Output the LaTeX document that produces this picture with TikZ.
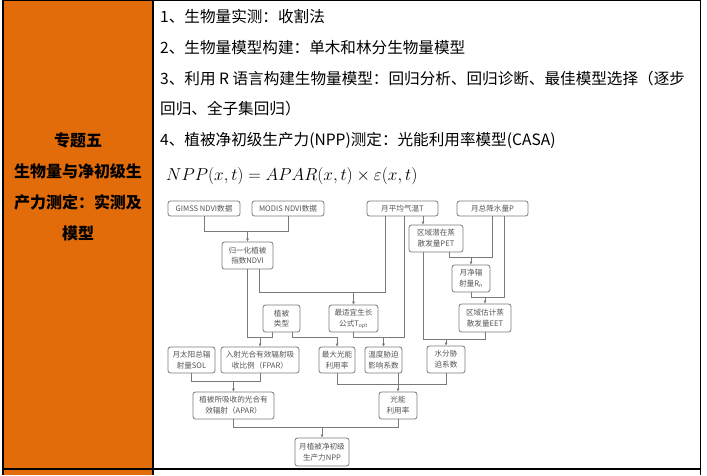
\documentclass[tikz,border=0pt]{standalone}
\usepackage{fontspec}
\newfontfamily\cjk{Noto Sans CJK SC}
\usetikzlibrary{arrows.meta}
\definecolor{taborange}{HTML}{E36C0A}
\definecolor{boxgray}{HTML}{7A7A7A}
\definecolor{txtgray}{HTML}{555555}

\begin{document}
\begin{tikzpicture}[x=1pt,y=-1pt,>=Latex,
 box/.style={draw=boxgray,rounded corners=2.5pt,line width=0.8pt,align=center,inner sep=0pt,text=txtgray,font=\cjk\fontsize{7.6}{10.8}\selectfont},
 ln/.style={draw=boxgray,line width=0.8pt},
 ar/.style={ln,-{Latex[length=3pt,width=3.2pt]}},
 item/.style={anchor=west,inner sep=0pt,font=\cjk\fontsize{15.6}{18}\selectfont},
 rule/.style={line width=1.2pt,black}]
\useasboundingbox (0,0) rectangle (707,475);
\fill[white] (0,0) rectangle (707,475);
\fill[taborange] (3,0) rectangle (153,475);
\draw[rule] (3,0.6) -- (700.5,0.6);
\draw[rule] (3,469) -- (700.5,469);
\draw[rule] (3,0) -- (3,475);
\draw[rule] (153,0) -- (153,475);
\draw[rule] (700.5,0) -- (700.5,475);

\node[font=\cjk\bfseries\fontsize{16}{31}\selectfont,align=center] (topic) at (78,186.5) {专题五\\生物量与净初级生\\产力测定：实测及\\模型};

\node[item] (l1) at (160,17) {1、生物量实测：收割法};
\node[item] (l2) at (160,48) {2、生物量模型构建：单木和林分生物量模型};
\node[item] (l3) at (160,79) {3、利用 R 语言构建生物量模型：回归分析、回归诊断、最佳模型选择（逐步};
\node[item] (l3b) at (160,109) {回归、全子集回归）};
\node[item] (l4) at (160,140) {4、植被净初级生产力(NPP)测定：光能利用率模型(CASA)};
\node[anchor=west,inner sep=0pt,font=\fontsize{16.4}{18}\selectfont] (eq) at (166,176) {$NPP(x,t)=APAR(x,t)\times\varepsilon(x,t)$};

\node[box,minimum width=72pt,minimum height=15pt] (gimss) at (204,208.5) {GIMSS NDVI数据};
\node[box,minimum width=72pt,minimum height=15pt] (modis) at (288,208.5) {MODIS NDVI数据};
\node[box,minimum width=71pt,minimum height=15pt] (temp) at (402.5,208.5) {月平均气温T};
\node[box,minimum width=71pt,minimum height=15pt] (prec) at (492.5,208.5) {月总降水量P};
\node[box,minimum width=51pt,minimum height=27pt] (ndvi) at (247.5,255.5) {归一化植被\\指数NDVI};
\node[box,minimum width=54pt,minimum height=27pt] (pet) at (436,238.5) {区域潜在蒸\\散发量PET};
\node[box,minimum width=38pt,minimum height=27pt] (rn) at (471,278.5) {月净辐\\射量R\textsubscript{n}};
\node[box,minimum width=52pt,minimum height=28pt] (eet) at (485,318) {区域估计蒸\\散发量EET};
\node[box,minimum width=37pt,minimum height=27pt] (veg) at (281.5,318.5) {植被\\类型};
\node[box,minimum width=49pt,minimum height=27pt] (topt) at (353.5,318.5) {最适宜生长\\公式T\textsubscript{opt}};
\node[box,minimum width=47pt,minimum height=26pt] (sol) at (191.5,360) {月太阳总辐\\射量SOL};
\node[box,minimum width=78pt,minimum height=26pt] (fpar) at (260,360) {入射光合有效辐射吸\\收比例（FPAR）};
\node[box,minimum width=36pt,minimum height=26pt] (luemax) at (337,360) {最大光能\\利用率};
\node[box,minimum width=37pt,minimum height=26pt] (tstress) at (383.5,360) {温度胁迫\\影响系数};
\node[box,minimum width=38pt,minimum height=27pt] (water) at (446,359.5) {水分胁\\迫系数};
\node[box,minimum width=81pt,minimum height=27pt] (apar) at (233.5,405.5) {植被所吸收的光合有\\效辐射（APAR）};
\node[box,minimum width=38pt,minimum height=27pt] (lue) at (398,405.5) {光能\\利用率};
\node[box,minimum width=54pt,minimum height=28pt] (npp) at (322,452) {月植被净初级\\生产力NPP};

\draw[ln] (gimss.south) -- ++(0,15) -| (modis.south);
\draw[ar] (ndvi.north) ++(0,-11) -- (ndvi.north);
\draw[ln] ([xshift=12pt]ndvi.south) -- ++(0,23) -| ([xshift=-17.5pt]temp.south);
\draw[ar] (topt.north) ++(0,-13) -- (topt.north);
\draw[ln] (ndvi.south) -- ++(0,68) -| ([xshift=-9.5pt]veg.south);
\draw[ar] (fpar.north) ++(0,-10) -- (fpar.north);
\draw[ar] ([xshift=10.5pt]veg.south) -- ++(0,5) -| (luemax.north);
\draw[ln] (topt.south) -- ++(0,5) -| ([xshift=1.5pt]temp.south);
\draw[ar] (tstress.north) ++(0,-10) -- (tstress.north);
\draw[ar] ([xshift=20.5pt]temp.south) -- ([xshift=-13pt]pet.north);
\draw[ln] ([xshift=13pt]pet.south) -- ++(0,5) -| (prec.south);
\draw[ar] (rn.north) ++(0,-8) -- (rn.north);
\draw[ln] (rn.south) -- ++(0,5) -| ([xshift=11.5pt]prec.south);
\draw[ar] (eet.north) ++(0,-7) -- (eet.north);
\draw[ln] ([xshift=-13pt]pet.south) -- ++(0,87) -| (eet.south);
\draw[ar] (water.north) ++(0,-7) -- (water.north);
\draw[ln] (sol.south) -- ++(0,8) -| (fpar.south);
\draw[ar] (apar.north) ++(0,-11) -- (apar.north);
\draw[ln] (luemax.south) -- ++(0,11) -| (water.south);
\draw[ar] (tstress.south -| lue.north) -- (lue.north);
\draw[ln] (apar.south) -- ++(0,8) -| (lue.south);
\draw[ar] (npp.north) ++(0,-11) -- (npp.north);
\end{tikzpicture}
\end{document}
